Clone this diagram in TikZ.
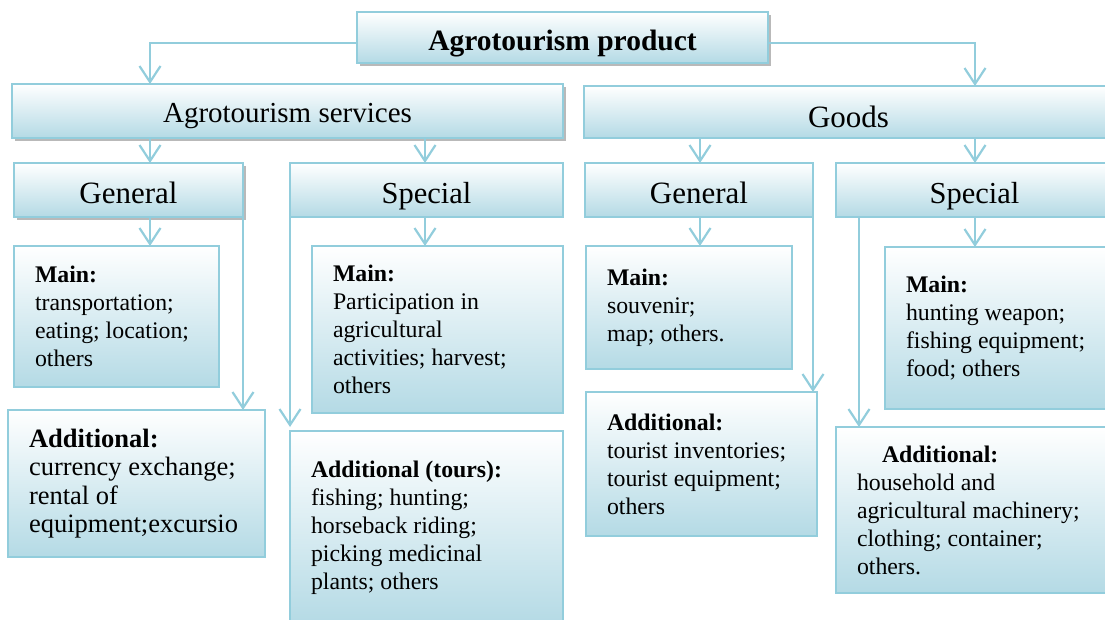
\documentclass[tikz,border=0pt]{standalone}
\usepackage{fontspec}
\setmainfont{Liberation Serif}
\usetikzlibrary{arrows.meta,shadows}
\definecolor{bord}{HTML}{92CDDC}
\definecolor{fillb}{HTML}{B4DAE5}
\newcommand{\fs}[1]{\fontsize{#1}{28}\selectfont}
\begin{document}
\begin{tikzpicture}[x=1pt,y=-1pt,
  box/.style={draw=bord, line width=2pt, top color=white, bottom color=fillb, inner sep=0pt, outer sep=0pt},
  titlebox/.style={box, font=\fontsize{31}{36}\selectfont, text height=30pt, text depth=4pt},
  txtbox/.style={box, align=flush left, inner xsep=21pt, font=\fs{23.8}},
  arr/.style={draw=bord, line width=2.2pt, -{Straight Barb[length=16pt,width=21pt]}},
  shad/.style={drop shadow={shadow xshift=3pt,shadow yshift=-3pt,fill=black!50,opacity=0.55}}]
\path[use as bounding box, clip] (0,0) rectangle (1105,619);

% level 0
\node[box, shad, minimum width=411pt, minimum height=51pt, font=\fontsize{29.5}{34}\selectfont\bfseries, text height=29pt, text depth=4pt] (top) at (562.5,37.5) {Agrotourism product};

% level 1
\node[titlebox, shad, minimum width=551pt, minimum height=54pt, font=\fontsize{29}{34}\selectfont, text height=26pt, text depth=4pt] (serv) at (287.5,111) {Agrotourism services};
\node[titlebox, minimum width=529pt, minimum height=52pt, text height=34pt, text depth=4pt] (goods) at (848.5,112) {Goods};

% level 2
\node[titlebox, shad, minimum width=229pt, minimum height=54pt] (sg) at (128.5,190) {General};
\node[titlebox, minimum width=273pt, minimum height=54pt, font=\fontsize{30.5}{36}\selectfont] (ss) at (426.5,190) {Special};
\node[titlebox, minimum width=228pt, minimum height=54pt] (gg) at (699,190) {General};
\node[titlebox, minimum width=277pt, minimum height=54pt, font=\fontsize{30.5}{36}\selectfont] (gs) at (974.5,190) {Special};

% level 3
\node[txtbox, text width=163pt, minimum height=141pt] (sgm) at (116.5,316.5)
  {\textbf{Main:}\\transportation;\\eating; location;\\others};
\node[txtbox, text width=215pt, minimum height=147pt, font=\fontsize{26.5}{28.5}\selectfont] (sga) at (136.5,483.5)
  {\textbf{Additional:}\\currency exchange;\\rental of\\equipment;excursio};
\node[txtbox, text width=209pt, minimum height=167pt] (ssm) at (437.5,329.5)
  {\textbf{Main:}\\Participation in\\agricultural\\activities; harvest;\\others};
\node[txtbox, text width=231pt, minimum height=194pt] (ssa) at (426.5,528)
  {\textbf{Additional (tours):}\\fishing; hunting;\\horseback riding;\\picking medicinal\\plants; others};
\node[txtbox, text width=164pt, minimum height=123pt] (ggm) at (689,307.5)
  {\textbf{Main:}\\souvenir;\\map; others.};
\node[txtbox, text width=189pt, minimum height=144pt] (gga) at (701.5,464)
  {\textbf{Additional:}\\tourist inventories;\\tourist equipment;\\others};
\node[txtbox, text width=218pt, minimum height=162pt] (gsm) at (1015,328)
  {\textbf{Main:}\\hunting weapon;\\fishing equipment;\\food; others};
\node[txtbox, text width=258pt, minimum height=166pt] (gsa) at (986,510)
  {\hspace*{25pt}\textbf{Additional:}\\household and\\agricultural machinery;\\clothing; container;\\others.};

% connectors
\draw[arr] ([yshift=-5.5pt]top.west) -| ([xshift=138pt]serv.north west);
\draw[arr] ([yshift=-5.5pt]top.east) -| ([xshift=391pt]goods.north west);
\draw[arr] ([xshift=138pt]serv.south west) -- ([xshift=136pt]sg.north west);
\draw[arr] ([xshift=413pt]serv.south west) -- ([xshift=135pt]ss.north west);
\draw[arr] ([xshift=116pt]goods.south west) -- ([xshift=115pt]gg.north west);
\draw[arr] ([xshift=391pt]goods.south west) -- ([xshift=139pt]gs.north west);
\draw[arr] ([xshift=136pt]sg.south west) -- ([xshift=136pt]sgm.north west);
\draw[arr] (sg.south east) -- ([xshift=235pt]sga.north west);
\draw[arr] ([xshift=135pt]ss.south west) -- ([xshift=113pt]ssm.north west);
\draw[arr] (ss.south west) -- ([yshift=4pt]ssa.north west);
\draw[arr] ([xshift=115pt]gg.south west) -- ([xshift=114pt]ggm.north west);
\draw[arr] (gg.south east) -- ([xshift=-4pt]gga.north east);
\draw[arr] ([xshift=23pt]gs.south west) -- ([xshift=23pt]gsa.north west);
\draw[arr] ([xshift=139pt]gs.south west) -- ([xshift=90pt]gsm.north west);
\end{tikzpicture}
\end{document}
